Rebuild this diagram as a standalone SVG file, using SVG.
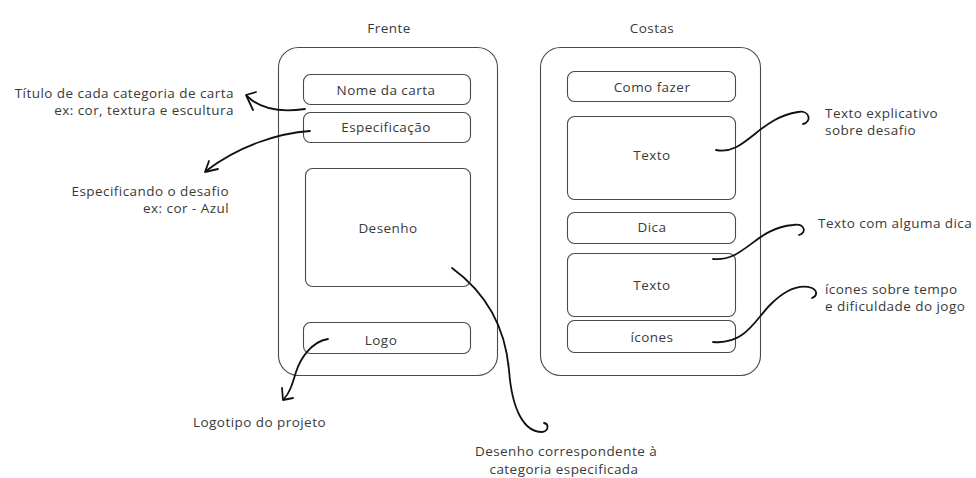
<svg xmlns="http://www.w3.org/2000/svg" width="976" height="478" viewBox="0 0 976 478">
  <style>
    .bg { fill: #ffffff; }
    .card { fill: none; stroke: #4a4a4a; stroke-width: 1.1; }
    .box { fill: none; stroke: #4a4a4a; stroke-width: 1.1; }
    .lbl { font-family: "Open Sans", "Liberation Sans", sans-serif; font-size: 13.5px; letter-spacing: 0.45px; fill: #3a3a3a; }
    .mid { text-anchor: middle; }
    .end { text-anchor: end; }
    .wire { fill: none; stroke: #111111; stroke-width: 1.8; stroke-linecap: round; stroke-linejoin: round; }
  </style>
  <rect class="bg" x="0" y="0" width="976" height="478"/>

  <!-- Front of the card -->
  <g id="frente">
    <text class="lbl mid" x="389" y="33">Frente</text>
    <rect class="card" x="278.5" y="47.5" width="219" height="328" rx="20"/>
  </g>
  <g id="nome-da-carta">
    <rect class="box" x="303.5" y="74.5" width="167" height="30" rx="7"/>
    <text class="lbl mid" x="386" y="95">Nome da carta</text>
  </g>
  <g id="especificacao">
    <rect class="box" x="303.5" y="112.5" width="167" height="30" rx="7"/>
    <text class="lbl mid" x="386" y="132">Especificação</text>
  </g>
  <g id="desenho">
    <rect class="box" x="305.5" y="168.5" width="165" height="118" rx="7"/>
    <text class="lbl mid" x="388" y="233">Desenho</text>
  </g>
  <g id="logo">
    <rect class="box" x="303.5" y="322.5" width="167" height="31" rx="7"/>
    <text class="lbl mid" x="381" y="345">Logo</text>
  </g>

  <!-- Back of the card -->
  <g id="costas">
    <text class="lbl mid" x="652" y="33">Costas</text>
    <rect class="card" x="540.5" y="47.5" width="220" height="328" rx="20"/>
  </g>
  <g id="como-fazer">
    <rect class="box" x="567.5" y="71.5" width="168" height="30" rx="7"/>
    <text class="lbl mid" x="652" y="92">Como fazer</text>
  </g>
  <g id="texto-1">
    <rect class="box" x="567.5" y="116.5" width="168" height="83" rx="7"/>
    <text class="lbl mid" x="652" y="160">Texto</text>
  </g>
  <g id="dica">
    <rect class="box" x="567.5" y="212.5" width="168" height="31" rx="7"/>
    <text class="lbl mid" x="652" y="232">Dica</text>
  </g>
  <g id="texto-2">
    <rect class="box" x="567.5" y="253.5" width="168" height="63" rx="7"/>
    <text class="lbl mid" x="652" y="290">Texto</text>
  </g>
  <g id="icones">
    <rect class="box" x="567.5" y="320.5" width="168" height="32" rx="7"/>
    <text class="lbl mid" x="652" y="342">ícones</text>
  </g>

  <!-- Notes -->
  <g id="nota-titulo">
    <text class="lbl end" x="234" y="98">Título de cada categoria de carta</text>
    <text class="lbl end" x="234" y="115">ex: cor, textura e escultura</text>
  </g>
  <g id="nota-especificacao">
    <text class="lbl end" x="229" y="196">Especificando o desafio</text>
    <text class="lbl end" x="229" y="213">ex: cor - Azul</text>
  </g>
  <g id="nota-logo">
    <text class="lbl" x="193" y="427">Logotipo do projeto</text>
  </g>
  <g id="nota-desenho">
    <text class="lbl mid" x="566" y="456">Desenho correspondente à</text>
    <text class="lbl mid" x="564" y="474">categoria especificada</text>
  </g>
  <g id="nota-texto">
    <text class="lbl" x="825" y="118">Texto explicativo</text>
    <text class="lbl" x="825" y="135">sobre desafio</text>
  </g>
  <g id="nota-dica">
    <text class="lbl" x="818" y="228">Texto com alguma dica</text>
  </g>
  <g id="nota-icones">
    <text class="lbl" x="825" y="294">ícones sobre tempo</text>
    <text class="lbl" x="825" y="311">e dificuldade do jogo</text>
  </g>

  <!-- Hand-drawn connectors -->
  <g id="connectors">
    <path class="wire" d="M305,109 C285,112 262,111 247,96"/>
    <path class="wire" d="M256,92 L246,95 L253,110"/>
    <path class="wire" d="M310,131 C280,133 240,145 206,171"/>
    <path class="wire" d="M209,161 L205,172 L218,169"/>
    <path class="wire" d="M452,268 C485,292 505,325 509,370 C512,410 524,432 542,432 C549,431 549,424 544,423"/>
    <path class="wire" d="M328,339 C310,342 300,360 296,372 C292,385 290,392 284,399"/>
    <path class="wire" d="M282,388 L283,400 L293,398"/>
    <path class="wire" d="M716,150 C745,156 758,118 798,112 C810,110 812,122 803,124"/>
    <path class="wire" d="M713,259 C745,262 755,228 793,225 C805,223 807,233 799,235"/>
    <path class="wire" d="M713,342 C745,345 755,320 770,305 C785,290 800,284 812,288 C818,291 817,296 812,298"/>
  </g>
</svg>
